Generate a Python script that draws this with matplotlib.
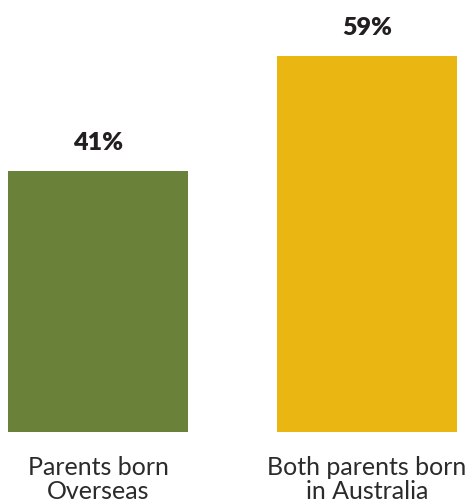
import matplotlib
matplotlib.use("Agg")
import matplotlib.pyplot as plt

categories = ["Parents born\nOverseas", "Both parents born\nin Australia"]
values = [41, 59]
value_labels = ["41%", "59%"]
colors = ["#6a813a", "#e9b612"]

W, H = 467, 504
fig = plt.figure(figsize=(W / 100, H / 100), dpi=100)
ax = fig.add_axes([0, 72 / H, 1, (H - 72) / H])

x = [0, 1]
ax.bar(x, values, width=180 / 269, color=colors)
ax.set_xlim(-98 / 269, 1 + 100 / 269)
ax.set_ylim(0, (H - 72) / (376 / 59))

for xi, v, lab in zip(x, values, value_labels):
    ax.annotate(lab, (xi, v), xytext=(0, 20), textcoords="offset points",
                ha="center", va="center", fontsize=18, fontweight="heavy",
                family=["Lato", "DejaVu Sans"], color="#231f20")

ax.set_xticks(x)
ax.set_xticklabels(categories, fontsize=18, family=["Lato", "DejaVu Sans"],
                   fontweight="normal", color="#2b2b2b", linespacing=1.05)
ax.tick_params(axis="x", length=0, pad=17)
ax.set_yticks([])
for s in ax.spines.values():
    s.set_visible(False)

fig.savefig("out.png", dpi=100)
